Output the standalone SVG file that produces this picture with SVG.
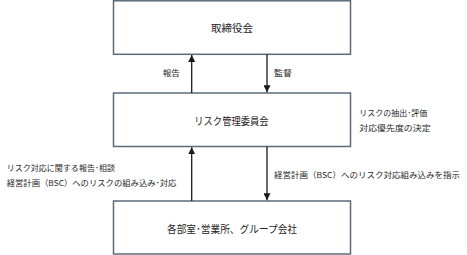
<svg xmlns="http://www.w3.org/2000/svg" width="467" height="255" viewBox="0 0 467 255">
<style>
.box{fill:#fff;stroke:#5b6b7b;stroke-width:1.5}
.t{font-family:"Noto Sans CJK JP","Noto Sans",sans-serif;fill:#262626}
.big{font-size:10.5px}
.sm{font-size:8px}
.ln{stroke:#1a1a1a;stroke-width:1.3;fill:none}
</style>
<defs>
<marker id="ah" viewBox="0 0 10 10" refX="10" refY="5" markerWidth="7" markerHeight="7" markerUnits="userSpaceOnUse" orient="auto">
<path d="M0,0 L10,5 L0,10 z" fill="#1a1a1a"/>
</marker>
</defs>
<rect width="467" height="255" fill="#fff"/>
<g id="board">
<rect class="box" x="113.5" y="0.8" width="237" height="53.5"/>
<text class="t big" x="211" y="31.5" textLength="42" lengthAdjust="spacingAndGlyphs">取締役会</text>
</g>
<g id="committee">
<rect class="box" x="113.5" y="93" width="237" height="53.5"/>
<text class="t big" x="194.3" y="125" textLength="74.3" lengthAdjust="spacingAndGlyphs">リスク管理委員会</text>
</g>
<g id="depts">
<rect class="box" x="113.5" y="201" width="237" height="53"/>
<text class="t big" x="167" y="233" textLength="130" lengthAdjust="spacingAndGlyphs">各部室･営業所、グループ会社</text>
</g>
<g id="connectors">
<line class="ln" x1="191.7" y1="93" x2="191.7" y2="55" marker-end="url(#ah)"/>
<line class="ln" x1="267" y1="54.3" x2="267" y2="92.3" marker-end="url(#ah)"/>
<line class="ln" x1="191.7" y1="201" x2="191.7" y2="147.3" marker-end="url(#ah)"/>
<line class="ln" x1="267" y1="146.5" x2="267" y2="200.3" marker-end="url(#ah)"/>
</g>
<g id="labels">
<text class="t sm" x="162.7" y="76" textLength="17.3" lengthAdjust="spacingAndGlyphs">報告</text>
<text class="t sm" x="274" y="76" textLength="18" lengthAdjust="spacingAndGlyphs">監督</text>
<text class="t sm" x="359.3" y="116" textLength="68" lengthAdjust="spacingAndGlyphs">リスクの抽出･評価</text>
<text class="t sm" x="359.3" y="130.5" textLength="71.3" lengthAdjust="spacingAndGlyphs">対応優先度の決定</text>
<text class="t sm" x="6.7" y="171" textLength="108.3" lengthAdjust="spacingAndGlyphs">リスク対応に関する報告･相談</text>
<text class="t sm" x="6.7" y="186" textLength="169.7" lengthAdjust="spacingAndGlyphs">経営計画（BSC）へのリスクの組み込み･対応</text>
<text class="t sm" x="274" y="178" textLength="186" lengthAdjust="spacingAndGlyphs">経営計画（BSC）へのリスク対応組み込みを指示</text>
</g>
</svg>
